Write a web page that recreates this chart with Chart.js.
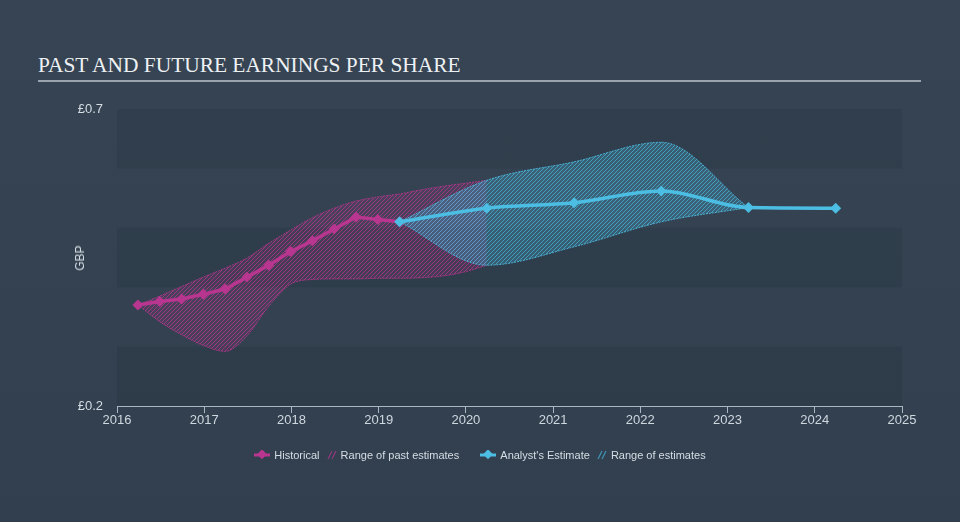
<!DOCTYPE html>
<html>
<head>
<meta charset="utf-8">
<script src="https://cdn.jsdelivr.net/npm/chart.js@4.4.1/dist/chart.umd.min.js"></script>
<style>
  html, body { margin:0; padding:0; width:960px; height:522px; overflow:hidden; background:#344251; }
  #wrap { position:relative; width:960px; height:522px; background:linear-gradient(180deg,#364453 0%,#323f4e 100%); }
  #title { position:absolute; left:38px; top:53px; font-family:"Liberation Serif","DejaVu Serif",serif; font-size:21.4px; color:#eef1f4; white-space:nowrap; }
  #rule { position:absolute; left:38px; top:80px; width:883px; height:2px; background:#9aa4ae; }
  #ylab { position:absolute; left:80px; top:258px; transform:translate(-50%,-50%) rotate(-90deg); font-family:"Liberation Sans",Arial,sans-serif; font-size:12px; color:#d6dde4; }
  canvas { position:absolute; left:0; top:0; }
  #legend { position:absolute; left:0; width:960px; top:448px; text-align:center; font-family:"Liberation Sans",Arial,sans-serif; font-size:11px; color:#d6dde4; white-space:nowrap; }
  #legend span.item { display:inline-flex; align-items:center; margin:0 2px; vertical-align:middle; }
  #legend svg { margin-right:4px; }
</style>
</head>
<body>
<div id="wrap">
  <div id="title">PAST AND FUTURE EARNINGS PER SHARE</div>
  <div id="rule"></div>
  <canvas id="c" width="960" height="522"></canvas>
  <div id="ylab">GBP</div>
  <div id="legend">
    <span class="item"><svg width="16" height="10"><line x1="0" y1="5" x2="16" y2="5" stroke="#b8368f" stroke-width="3"/><rect x="4" y="1" width="7" height="7" transform="rotate(45 8 5)" fill="#b8368f"/></svg>Historical</span>
    <span class="item"><svg width="10" height="10"><line x1="1" y1="9" x2="5" y2="1" stroke="#8e3a7c" stroke-width="1.3"/><line x1="5" y1="9" x2="9" y2="1" stroke="#8e3a7c" stroke-width="1.3"/></svg>Range of past estimates</span>
    <span class="item" style="margin-left:16px"><svg width="16" height="10"><line x1="0" y1="5" x2="16" y2="5" stroke="#4cbde3" stroke-width="3"/><rect x="4" y="1" width="7" height="7" transform="rotate(45 8 5)" fill="#4cbde3"/></svg>Analyst's Estimate</span>
    <span class="item"><svg width="10" height="10"><line x1="1" y1="9" x2="5" y2="1" stroke="#3f93b4" stroke-width="1.3"/><line x1="5" y1="9" x2="9" y2="1" stroke="#3f93b4" stroke-width="1.3"/></svg>Range of estimates</span>
  </div>
</div>
<script>
// ---- data ----
const histX   = [2016.24, 2016.49, 2016.74, 2016.99, 2017.24, 2017.49, 2017.74, 2017.99, 2018.24, 2018.49, 2018.74, 2018.99, 2019.24];
const histEPS = [0.370, 0.376, 0.380, 0.388, 0.397, 0.417, 0.437, 0.460, 0.478, 0.498, 0.518, 0.514, 0.510];

const pastRangeX     = [2016.24, 2016.49, 2016.74, 2016.99, 2017.24, 2017.49, 2017.74, 2017.99, 2018.24, 2018.49, 2018.74, 2018.99, 2019.24, 2019.49, 2019.74, 2019.99, 2020.24];
const pastRangeHigh  = [0.370, 0.385, 0.401, 0.417, 0.432, 0.449, 0.474, 0.496, 0.517, 0.533, 0.545, 0.552, 0.557, 0.564, 0.570, 0.575, 0.580];
const pastRangeLow   = [0.370, 0.342, 0.320, 0.302, 0.292, 0.318, 0.368, 0.405, 0.413, 0.414, 0.414, 0.415, 0.415, 0.416, 0.419, 0.426, 0.437];

const estX   = [2019.24, 2020.24, 2021.24, 2022.24, 2023.24, 2024.24];
const estEPS = [0.510, 0.533, 0.542, 0.562, 0.534, 0.533];

const futRangeX    = [2019.24, 2020.24, 2021.24, 2022.24, 2023.24];
const futRangeHigh = [0.510, 0.580, 0.611, 0.644, 0.534];
const futRangeLow  = [0.510, 0.437, 0.468, 0.510, 0.534];

const yearTicks = [2016, 2017, 2018, 2019, 2020, 2021, 2022, 2023, 2024, 2025];
const yTickValues = [0.2, 0.7];
const bandValues = [0.2, 0.3, 0.4, 0.5, 0.6, 0.7];

// ---- helpers ----
const pts = (xs, ys) => xs.map((x, i) => ({x: x, y: ys[i]}));
function hatch(lineColor, bg) {
  const s = 4;
  const c = document.createElement('canvas');
  c.width = s; c.height = s;
  const g = c.getContext('2d');
  if (bg) { g.fillStyle = bg; g.fillRect(0, 0, s, s); }
  g.strokeStyle = lineColor; g.lineWidth = 1;
  g.beginPath();
  g.moveTo(0, s); g.lineTo(s, 0);
  g.moveTo(-1, 1); g.lineTo(1, -1);
  g.moveTo(s - 1, s + 1); g.lineTo(s + 1, s - 1);
  g.stroke();
  return g.createPattern(c, 'repeat');
}
const ctx = document.getElementById('c').getContext('2d');
const pinkPat = hatch('rgba(184,54,143,0.75)', 'rgba(184,54,143,0.16)');
const bluePat = hatch('rgba(76,189,227,0.65)', 'rgba(76,189,227,0.26)');

const bandPlugin = {
  id: 'bands',
  beforeDatasetsDraw(chart) {
    const {ctx, chartArea, scales} = chart;
    ctx.save();
    for (let i = 0; i < bandValues.length - 1; i++) {
      const y0 = scales.y.getPixelForValue(bandValues[i]);
      const y1 = scales.y.getPixelForValue(bandValues[i + 1]);
      ctx.fillStyle = (i % 2 === 0) ? 'rgba(20,30,40,0.12)' : 'rgba(255,255,255,0.0)';
      ctx.fillRect(chartArea.left, y1, chartArea.right - chartArea.left, y0 - y1);
    }
    ctx.restore();
  }
};

new Chart(ctx, {
  type: 'line',
  data: {
    datasets: [
      { label: 'pastHigh', data: pts(pastRangeX, pastRangeHigh), borderColor: 'rgba(184,54,143,0.85)', borderWidth: 1, borderDash: [2, 1],
        backgroundColor: pinkPat, fill: '+1', pointRadius: 0, cubicInterpolationMode: 'monotone', order: 5 },
      { label: 'pastLow', data: pts(pastRangeX, pastRangeLow), borderColor: 'rgba(184,54,143,0.85)', borderWidth: 1, borderDash: [2, 1],
        fill: false, pointRadius: 0, cubicInterpolationMode: 'monotone', order: 4 },
      { label: 'futHigh', data: pts(futRangeX, futRangeHigh), borderColor: 'rgba(76,189,227,0.85)', borderWidth: 1, borderDash: [2, 1],
        backgroundColor: bluePat, fill: '+1', pointRadius: 0, cubicInterpolationMode: 'monotone', order: 3 },
      { label: 'futLow', data: pts(futRangeX, futRangeLow), borderColor: 'rgba(76,189,227,0.85)', borderWidth: 1, borderDash: [2, 1],
        fill: false, pointRadius: 0, cubicInterpolationMode: 'monotone', order: 2 },
      { label: 'Historical', data: pts(histX, histEPS), borderColor: '#b8368f', backgroundColor: '#b8368f', borderWidth: 3.5,
        pointStyle: 'rectRot', pointRadius: 5.5, pointBorderWidth: 0, tension: 0, fill: false, order: 1 },
      { label: "Analyst's Estimate", data: pts(estX, estEPS), borderColor: '#4cbde3', backgroundColor: '#4cbde3', borderWidth: 3.5,
        pointStyle: 'rectRot', pointRadius: 5.5, pointBorderWidth: 0, cubicInterpolationMode: 'monotone', fill: false, order: 0 }
    ]
  },
  options: {
    responsive: false,
    animation: false,
    events: [],
    layout: { padding: { left: 60, right: 58, top: 109, bottom: 0 } },
    plugins: { legend: { display: false }, tooltip: { enabled: false } },
    scales: {
      x: {
        type: 'linear', min: 2016, max: 2025,
        afterBuildTicks: s => { s.ticks = yearTicks.map(v => ({value: v})); },
        afterFit: s => { s.height = 116; },
        ticks: { color: '#cfd7df', font: { family: 'Liberation Sans, Arial, sans-serif', size: 13 }, padding: 0, maxRotation: 0,
                 callback: v => String(v) },
        grid: { drawOnChartArea: false, drawTicks: true, tickLength: 7, color: '#a9b6c3', lineWidth: 1 },
        border: { display: true, color: '#a9b6c3', width: 1 }
      },
      y: {
        min: 0.2, max: 0.7,
        afterBuildTicks: s => { s.ticks = yTickValues.map(v => ({value: v})); },
        afterFit: s => { s.width = 57; },
        ticks: { color: '#d6dde4', font: { family: 'Liberation Sans, Arial, sans-serif', size: 13 }, padding: 14,
                 callback: v => '£' + Number(v).toFixed(1) },
        grid: { display: false, drawTicks: false },
        border: { display: false }
      }
    }
  },
  plugins: [bandPlugin]
});
</script>
</body>
</html>
